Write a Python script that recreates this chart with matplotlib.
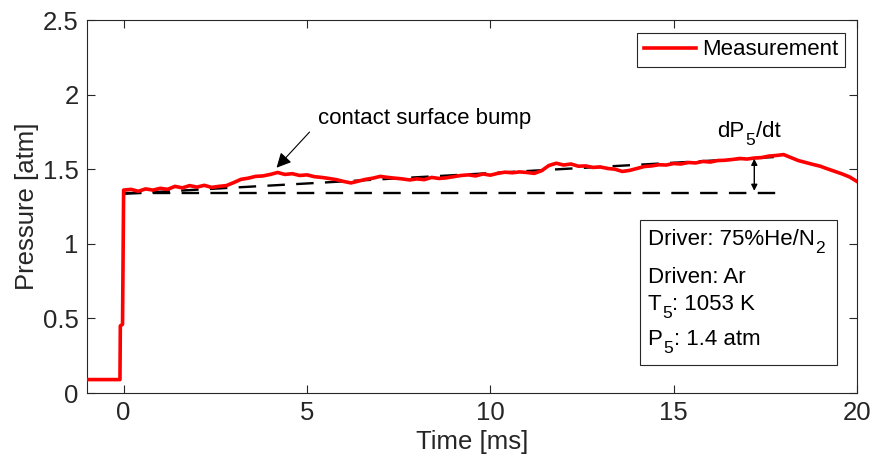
import matplotlib
matplotlib.use("Agg")
import matplotlib.pyplot as plt
from matplotlib.patches import Rectangle

plt.rcParams['font.family'] = ['Liberation Sans', 'DejaVu Sans']

# Pre-shock and shock arrival
t_pre = [-1.0, -0.1, -0.09, -0.03, 0.0]
p_pre = [0.09, 0.09, 0.45, 0.46, 1.36]

# Measured pressure trace after arrival
t_meas = [0.0, 0.2, 0.4, 0.6, 0.8, 1.0, 1.2, 1.4, 1.6, 1.8, 2.0, 2.2, 2.4, 2.6, 2.8,
          3.0, 3.2, 3.4, 3.6, 3.8, 4.0, 4.2, 4.4, 4.6, 4.8, 5.0, 5.2, 5.4, 5.6, 5.8,
          6.0, 6.2, 6.4, 6.6, 6.8, 7.0, 7.2, 7.4, 7.6, 7.8, 8.0, 8.2, 8.4, 8.6, 8.8,
          9.0, 9.2, 9.4, 9.6, 9.8, 10.0, 10.2, 10.4, 10.6, 10.8, 11.0, 11.2, 11.4, 11.6, 11.8,
          12.0, 12.2, 12.4, 12.6, 12.8, 13.0, 13.2, 13.4, 13.6, 13.8, 14.0, 14.2, 14.4, 14.6, 14.8,
          15.0, 15.2, 15.4, 15.6, 15.8, 16.0, 16.2, 16.4, 16.6, 16.8, 17.0, 17.2, 17.4, 17.6, 17.8,
          18.0, 18.2, 18.4, 18.6, 18.8, 19.0, 19.2, 19.4, 19.6, 19.8, 20.0]
p_meas = [1.355, 1.365, 1.352, 1.368, 1.360, 1.372, 1.365, 1.385, 1.375, 1.390, 1.380, 1.392, 1.378, 1.385, 1.390,
          1.410, 1.432, 1.440, 1.452, 1.455, 1.465, 1.478, 1.465, 1.470, 1.458, 1.462, 1.450, 1.445, 1.438, 1.430,
          1.418, 1.408, 1.420, 1.432, 1.440, 1.452, 1.445, 1.440, 1.435, 1.428, 1.435, 1.430, 1.445, 1.438, 1.442,
          1.450, 1.458, 1.462, 1.455, 1.468, 1.460, 1.472, 1.480, 1.476, 1.482, 1.478, 1.472, 1.490, 1.525, 1.540,
          1.528, 1.535, 1.520, 1.522, 1.512, 1.515, 1.505, 1.500, 1.485, 1.492, 1.505, 1.518, 1.522, 1.530, 1.528,
          1.538, 1.535, 1.545, 1.542, 1.552, 1.548, 1.558, 1.560, 1.565, 1.572, 1.568, 1.575, 1.578, 1.588, 1.592,
          1.598, 1.578, 1.558, 1.545, 1.532, 1.520, 1.502, 1.485, 1.468, 1.448, 1.418]

# Reference lines
t_flat = [0.0, 18.0]
p_flat = [1.34, 1.34]
t_slope = [0.0, 18.0]
p_slope = [1.335, 1.585]

# dP5/dt double arrow
t_arrow = 17.2
p_arrow = [1.355, 1.57]

fig = plt.figure(figsize=(8.74, 4.61), dpi=100)
ax = fig.add_axes([0.0995, 0.1475, 0.881, 0.8091])

TXT = 16
SUB = 12.5


def rich_text(x, y, parts, transform, zorder=6):
    """Draw text with MATLAB-like subscripts. parts: list of (string, is_sub)."""
    main = ax.text(x, y, parts[0][0], transform=transform, fontsize=TXT,
                   ha='left', va='baseline', zorder=zorder)
    prev = main
    for s, is_sub in parts[1:]:
        if is_sub:
            prev = ax.annotate(s, xy=(1, 0), xycoords=(prev, main),
                               xytext=(0.5, -4.5), textcoords='offset points',
                               fontsize=SUB, ha='left', va='bottom', zorder=zorder)
        else:
            prev = ax.annotate(s, xy=(1, 0), xycoords=(prev, main),
                               xytext=(0.5, 0), textcoords='offset points',
                               fontsize=TXT, ha='left', va='bottom', zorder=zorder)
    return main


dash = (0, (7.4, 4.8))
ax.plot(t_flat, p_flat, color='black', lw=1.7, linestyle=dash, zorder=2)
ax.plot(t_slope, p_slope, color='black', lw=1.7, linestyle=dash, zorder=2)
ax.plot(t_pre + t_meas[1:], p_pre + p_meas[1:], color='red', lw=2.6, zorder=3,
        label='Measurement', solid_joinstyle='round')

ax.annotate('', xy=(t_arrow, p_arrow[0]), xytext=(t_arrow, p_arrow[1]),
            arrowprops=dict(arrowstyle='<|-|>', color='black', lw=1.0,
                            mutation_scale=9, shrinkA=0, shrinkB=0), zorder=4)
rich_text(16.2, 1.716, [('dP', False), ('5', True), ('/dt', False)], ax.transData)

ax.text(5.29, 1.843, 'contact surface bump', fontsize=TXT, ha='left', va='center')
ax.annotate('', xy=(4.17, 1.51), xytext=(5.07, 1.749),
            arrowprops=dict(arrowstyle='-|>', color='black', lw=0.8,
                            mutation_scale=22, shrinkA=0, shrinkB=0))

ax.set_xlim(-1, 20)
ax.set_ylim(0, 2.5)
ax.set_xticks([0, 5, 10, 15, 20])
ax.set_yticks([0, 0.5, 1, 1.5, 2, 2.5])
ax.set_yticklabels(['0', '0.5', '1', '1.5', '2', '2.5'])
ax.tick_params(direction='in', top=True, right=True, length=6, width=0.8,
               labelsize=18.5, color='0.15', labelcolor='0.15', pad=6)
for s in ax.spines.values():
    s.set_color('0.15')
    s.set_linewidth(0.8)
ax.set_xlabel('Time [ms]', fontsize=18.5, color='0.15', labelpad=3)
ax.set_ylabel('Pressure [atm]', fontsize=18.5, color='0.15', labelpad=3)

leg = ax.legend(loc='upper right', bbox_to_anchor=(0.9844, 0.965), fontsize=TXT,
                frameon=True, fancybox=False, edgecolor='0.15', framealpha=1,
                handlelength=2.35, borderpad=0.28, handletextpad=0.3, borderaxespad=0)
leg.get_frame().set_linewidth(0.8)

# Info box
ax.add_patch(Rectangle((0.718, 0.075), 0.256, 0.389, transform=ax.transAxes,
                       facecolor='white', edgecolor='0.15', lw=0.8, zorder=5))
rich_text(0.728, 0.397, [('Driver: 75%He/N', False), ('2', True)], ax.transAxes)
rich_text(0.728, 0.295, [('Driven: Ar', False)], ax.transAxes)
rich_text(0.728, 0.2225, [('T', False), ('5', True), (': 1053 K', False)], ax.transAxes)
rich_text(0.728, 0.1287, [('P', False), ('5', True), (': 1.4 atm', False)], ax.transAxes)

fig.savefig('out.png', dpi=100)
